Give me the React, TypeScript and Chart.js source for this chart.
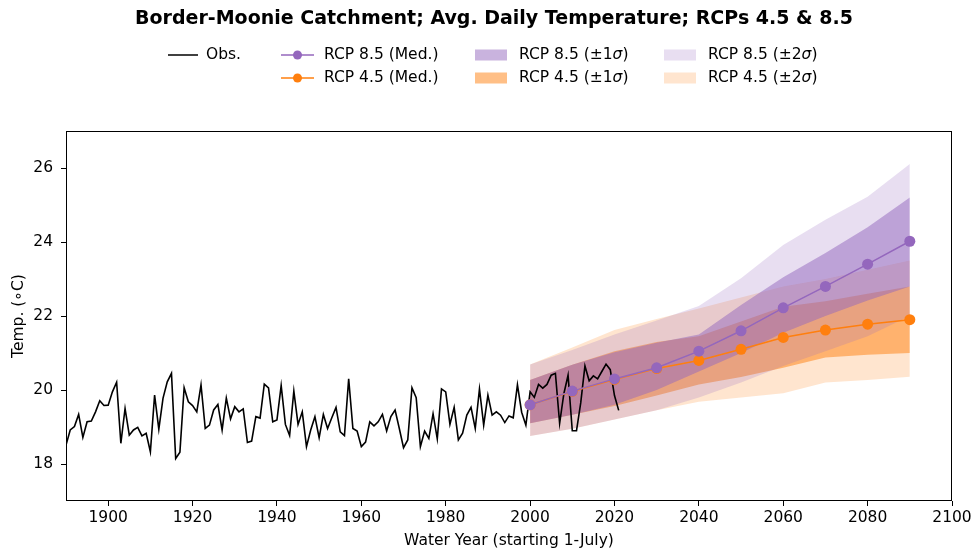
import { useEffect, useRef } from "react";
import { Chart, registerables } from "chart.js";

Chart.register(...registerables);

const FONT = "'DejaVu Sans', sans-serif";
const PURPLE = "#9467bd";
const ORANGE = "#ff7f0e";
const PURPLE_1S = "rgba(148,103,189,0.5)";
const PURPLE_2S = "rgba(148,103,189,0.22)";
const ORANGE_1S = "rgba(255,127,14,0.5)";
const ORANGE_2S = "rgba(255,127,14,0.2)";

const TITLE = "Border-Moonie Catchment; Avg. Daily Temperature; RCPs 4.5 & 8.5";
const X_TITLE = "Water Year (starting 1-July)";
const Y_TITLE = "Temp. (\u2218C)";

// Observed annual average daily temperature, water years 1890..2021
const obsFirstYear = 1890;
const obsTemp = [
  18.51, 18.92, 19.01, 19.34, 18.72, 19.14, 19.16, 19.41, 19.71, 19.58,
  19.59, 19.95, 20.21, 18.56, 19.5, 18.78, 18.92, 18.99, 18.76, 18.83,
  18.33, 19.86, 18.94, 19.78, 20.22, 20.45, 18.15, 18.32, 20.06, 19.68,
  19.58, 19.41, 20.14, 18.96, 19.05, 19.46, 19.61, 18.92, 19.78, 19.22,
  19.55, 19.41, 19.49, 18.58, 18.62, 19.28, 19.24, 20.16, 20.06, 19.14,
  19.19, 20.12, 19.07, 18.77, 19.97, 19.07, 19.41, 18.47, 18.92, 19.28,
  18.71, 19.34, 18.96, 19.25, 19.53, 18.87, 18.77, 20.3, 18.96, 18.89,
  18.47, 18.59, 19.14, 19.03, 19.14, 19.34, 18.89, 19.28, 19.46, 18.96,
  18.44, 18.65, 20.06, 19.79, 18.47, 18.89, 18.69, 19.36, 18.68, 20.03,
  19.95, 19.07, 19.53, 18.65, 18.83, 19.32, 19.53, 18.96, 20.03, 19.05,
  19.86, 19.32, 19.41, 19.32, 19.12, 19.3, 19.25, 20.14, 19.4, 19.05,
  19.95, 19.8, 20.15, 20.05, 20.15, 20.4, 20.45, 19.1, 19.9, 20.4,
  18.9, 18.9, 19.65, 20.65, 20.25, 20.38, 20.3, 20.5, 20.7, 20.55,
  19.85, 19.45,
];

// Projections (decadal)
const projYears = [2000, 2010, 2020, 2030, 2040, 2050, 2060, 2070, 2080, 2090];

const rcp85Med = [19.6, 19.97, 20.3, 20.6, 21.05, 21.6, 22.22, 22.8, 23.4, 24.02];
const rcp85P1 = [20.27, 20.68, 21.02, 21.28, 21.5, 22.3, 23.05, 23.7, 24.4, 25.2];
const rcp85M1 = [19.1, 19.33, 19.6, 20.0, 20.5, 21.0, 21.55, 22.0, 22.42, 22.8];
const rcp85P2 = [20.69, 21.08, 21.5, 21.88, 22.27, 23.02, 23.92, 24.6, 25.22, 26.11];
const rcp85M2 = [18.76, 18.95, 19.2, 19.45, 19.8, 20.2, 20.65, 21.05, 21.45, 22.0];

const rcp45Med = [19.6, 19.96, 20.28, 20.58, 20.8, 21.1, 21.42, 21.62, 21.78, 21.9];
const rcp45P1 = [20.27, 20.68, 21.05, 21.3, 21.45, 21.85, 22.25, 22.4, 22.6, 22.8];
const rcp45M1 = [19.1, 19.33, 19.57, 19.85, 20.15, 20.35, 20.6, 20.88, 20.95, 21.0];
const rcp45P2 = [20.69, 21.15, 21.62, 21.92, 22.2, 22.5, 22.8, 23.0, 23.25, 23.5];
const rcp45M2 = [18.76, 18.95, 19.2, 19.45, 19.68, 19.8, 19.91, 20.2, 20.27, 20.36];

const xTicks = [1900, 1920, 1940, 1960, 1980, 2000, 2020, 2040, 2060, 2080, 2100];
const yTicks = [18, 20, 22, 24, 26];

const pts = (ys: number[]) => projYears.map((x, i) => ({ x, y: ys[i] }));
const obsPts = obsTemp.map((y, i) => ({ x: obsFirstYear + i, y }));

type Part = { t: string; it?: boolean };

function drawParts(ctx: CanvasRenderingContext2D, parts: Part[], x: number, y: number, size: number) {
  let cx = x;
  for (const p of parts) {
    ctx.font = `${p.it ? "italic " : ""}${size}px ${FONT}`;
    ctx.fillText(p.t, cx, y);
    cx += ctx.measureText(p.t).width;
  }
}

const figurePlugin = {
  id: "figureDecor",
  afterDatasetsDraw(chart: any) {
    const { ctx, chartArea: a } = chart;
    ctx.save();
    ctx.strokeStyle = "#000";
    ctx.lineWidth = 1;
    ctx.strokeRect(Math.round(a.left) + 0.5, Math.round(a.top) + 0.5, Math.round(a.right - a.left) - 1, Math.round(a.bottom - a.top) - 1);
    ctx.restore();
  },
  afterDraw(chart: any) {
    const ctx: CanvasRenderingContext2D = chart.ctx;
    ctx.save();
    ctx.fillStyle = "#000";
    ctx.textBaseline = "middle";
    ctx.textAlign = "center";
    ctx.font = `bold 19px ${FONT}`;
    ctx.fillText(TITLE, 494, 19);

    ctx.textAlign = "left";
    const fs = 15.5;
    const r1 = 55;
    const r2 = 78;
    // Obs.
    ctx.strokeStyle = "#000";
    ctx.lineWidth = 1.5;
    ctx.beginPath();
    ctx.moveTo(168, r1);
    ctx.lineTo(198, r1);
    ctx.stroke();
    drawParts(ctx, [{ t: "Obs." }], 206, r1, fs);
    // Medians
    const med = (color: string, yy: number, label: string) => {
      ctx.strokeStyle = color;
      ctx.fillStyle = color;
      ctx.lineWidth = 1.5;
      ctx.beginPath();
      ctx.moveTo(281, yy);
      ctx.lineTo(314, yy);
      ctx.stroke();
      ctx.beginPath();
      ctx.arc(297.5, yy, 4.5, 0, Math.PI * 2);
      ctx.fill();
      ctx.fillStyle = "#000";
      drawParts(ctx, [{ t: label }], 324, yy, fs);
    };
    med(PURPLE, r1, "RCP 8.5 (Med.)");
    med(ORANGE, r2, "RCP 4.5 (Med.)");
    // Patches
    const patch = (color: string, px: number, yy: number, rcp: string, n: string) => {
      ctx.fillStyle = color;
      ctx.fillRect(px, yy - 5.5, 32, 11);
      ctx.fillStyle = "#000";
      drawParts(ctx, [{ t: `RCP ${rcp} (\u00b1${n}` }, { t: "\u03c3", it: true }, { t: ")" }], px + 44, yy, fs);
    };
    patch(PURPLE_1S, 475, r1, "8.5", "1");
    patch(ORANGE_1S, 475, r2, "4.5", "1");
    patch(PURPLE_2S, 664, r1, "8.5", "2");
    patch(ORANGE_2S, 664, r2, "4.5", "2");
    ctx.restore();
  },
};

export default function App() {
  const ref = useRef<HTMLCanvasElement | null>(null);

  useEffect(() => {
    if (!ref.current) return;
    const band = (lo: number[], hi: number[], color: string, order: number) => [
      {
        label: "lo",
        data: pts(lo),
        borderColor: "transparent",
        borderWidth: 0,
        pointRadius: 0,
        fill: false,
        order,
      },
      {
        label: "hi",
        data: pts(hi),
        borderColor: "transparent",
        borderWidth: 0,
        pointRadius: 0,
        backgroundColor: color,
        fill: "-1",
        order,
      },
    ];

    const chart = new Chart(ref.current, {
      type: "line",
      data: {
        datasets: [
          {
            label: "RCP 8.5 (Med.)",
            data: pts(rcp85Med),
            borderColor: PURPLE,
            backgroundColor: PURPLE,
            borderWidth: 1.5,
            pointRadius: 5.5,
            pointBorderWidth: 0,
            fill: false,
            order: 0,
          },
          {
            label: "RCP 4.5 (Med.)",
            data: pts(rcp45Med),
            borderColor: ORANGE,
            backgroundColor: ORANGE,
            borderWidth: 1.5,
            pointRadius: 5.5,
            pointBorderWidth: 0,
            fill: false,
            order: 1,
          },
          {
            label: "Obs.",
            data: obsPts,
            borderColor: "#000",
            borderWidth: 1.6,
            pointRadius: 0,
            fill: false,
            order: 2,
          },
          ...band(rcp85M1, rcp85P1, PURPLE_1S, 3),
          ...band(rcp85M2, rcp85P2, PURPLE_2S, 4),
          ...band(rcp45M1, rcp45P1, ORANGE_1S, 5),
          ...band(rcp45M2, rcp45P2, ORANGE_2S, 6),
        ] as any,
      },
      options: {
        animation: false,
        responsive: false,
        devicePixelRatio: 1,
        layout: { padding: { left: 0, right: 24, top: 131, bottom: 0 } },
        plugins: {
          legend: { display: false },
          tooltip: { enabled: false },
          title: { display: false },
        },
        elements: { line: { tension: 0 } },
        scales: {
          x: {
            type: "linear",
            min: 1890,
            max: 2100,
            afterBuildTicks: (s: any) => {
              s.ticks = xTicks.map((v) => ({ value: v }));
            },
            afterFit: (s: any) => {
              s.height = 52;
            },
            ticks: {
              color: "#000",
              font: { family: FONT, size: 15.5 },
              padding: 3,
              maxRotation: 0,
              autoSkip: false,
              callback: (v: any) => String(v),
            },
            grid: {
              display: true,
              drawOnChartArea: false,
              drawTicks: true,
              tickLength: 5,
              tickColor: "#000",
              tickWidth: 1,
            },
            border: { display: false },
            title: {
              display: true,
              text: X_TITLE,
              color: "#000",
              font: { family: FONT, size: 15.5 },
              padding: { top: 0, bottom: 3 },
            },
          },
          y: {
            type: "linear",
            min: 17,
            max: 27,
            afterBuildTicks: (s: any) => {
              s.ticks = yTicks.map((v) => ({ value: v }));
            },
            afterFit: (s: any) => {
              s.width = 66;
            },
            ticks: {
              color: "#000",
              font: { family: FONT, size: 15.5 },
              padding: 8,
              callback: (v: any) => String(v),
            },
            grid: {
              display: true,
              drawOnChartArea: false,
              drawTicks: true,
              tickLength: 5,
              tickColor: "#000",
              tickWidth: 1,
            },
            border: { display: false },
            title: {
              display: true,
              text: Y_TITLE,
              color: "#000",
              font: { family: FONT, size: 15.5 },
              padding: { top: 10, bottom: 0 },
            },
          },
        },
      } as any,
      plugins: [figurePlugin],
    });
    return () => chart.destroy();
  }, []);

  return (
    <div style={{ position: "absolute", left: 0, top: 0, width: 976, height: 553, background: "#fff" }}>
      <canvas ref={ref} width={976} height={553} style={{ display: "block" }} />
    </div>
  );
}
